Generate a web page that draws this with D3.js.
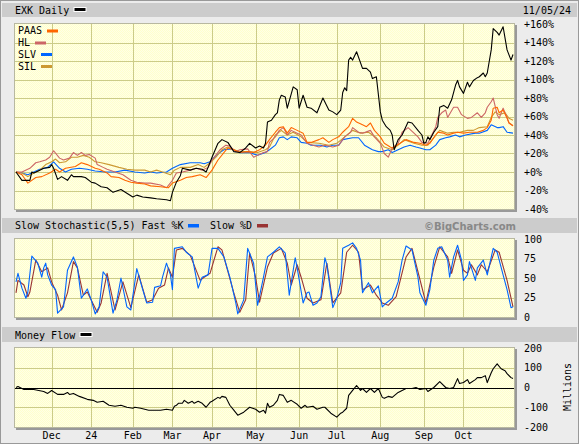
<!DOCTYPE html>
<html><head><meta charset="utf-8">
<script src="https://cdn.jsdelivr.net/npm/d3@7"></script>
<style>body{margin:0;background:#fff}svg{display:block}</style>
</head><body><svg id="c" width="579" height="444"></svg>
<script>
// ---- data: [trading-day index, value] ----
const monthLabels = ["Dec","24","Feb","Mar","Apr","May","Jun","Jul","Aug","Sep","Oct"];
const monthIdx    = [18,38,59,79,99,121,143,162,184,206,226];
const mainTicks = [-40,-20,0,20,40,60,80,100,120,140,160];
const stochTicks = [0,25,50,75,100];
const mfTicks = [-200,-100,0,100,200];
const lastIdx = 251;

const exk = [[0,0],[3,-9],[7,-9],[8,0],[9,-1],[12,2],[14,4],[17,5],[18,8],[19,4],[21,-8],[23,-5],[26,-9],[28,-3],[29,-5],[33,-5],[35,-6],[38,-11],[40,-12],[43,-16],[46,-17],[49,-22],[53,-19],[56,-23],[59,-27],[61,-25],[64,-27],[68,-28],[71,-29],[76,-30],[78,-31],[79,-22],[81,-11],[83,-4],[84,4],[88,2],[91,4],[94,3],[96,0],[97,5],[99,16],[102,31],[104,35],[107,32],[110,22],[113,21],[116,26],[118,31],[121,26],[123,28],[125,26],[126,31],[127,54],[129,56],[131,62],[132,64],[133,78],[134,83],[136,81],[137,69],[140,92],[142,89],[143,69],[145,83],[147,70],[149,69],[152,64],[155,80],[158,67],[160,65],[162,62],[164,67],[165,86],[166,91],[167,88],[168,121],[169,124],[170,121],[172,130],[175,112],[177,112],[179,108],[180,101],[182,103],[184,65],[185,56],[187,49],[189,45],[190,40],[191,24],[193,35],[195,40],[198,54],[200,53],[203,45],[205,40],[206,31],[207,32],[208,38],[209,35],[211,43],[213,49],[214,70],[216,72],[218,69],[220,78],[222,94],[223,99],[224,92],[226,85],[228,97],[229,92],[231,99],[233,102],[234,103],[236,107],[237,103],[238,107],[240,132],[241,155],[243,151],[244,148],[246,157],[248,132],[250,121],[251,127]];

const paas = [[0,0],[3,-3],[6,-12],[10,-6],[13,-5],[17,-1],[20,3],[22,0],[25,4],[30,6],[33,10],[36,8],[40,4],[42,3],[46,-1],[48,-5],[52,-6],[55,-9],[58,-11],[61,-12],[65,-13],[68,-15],[73,-16],[77,-17],[79,-12],[83,-9],[86,-6],[89,-5],[93,-3],[96,-6],[99,2],[102,13],[105,21],[107,26],[110,24],[113,21],[117,22],[120,21],[123,24],[126,29],[128,35],[131,43],[133,48],[135,49],[137,42],[139,48],[142,45],[145,42],[147,32],[149,32],[153,35],[155,37],[158,32],[160,35],[163,38],[165,43],[168,49],[170,58],[172,54],[175,51],[177,49],[179,53],[181,45],[184,38],[186,31],[189,27],[190,26],[194,31],[197,35],[201,32],[204,31],[207,29],[209,31],[211,37],[213,43],[216,42],[218,40],[221,42],[223,43],[226,42],[229,43],[233,43],[236,45],[238,48],[240,56],[241,69],[243,70],[244,64],[246,67],[248,58],[249,53],[251,50]];

const hl = [[0,0],[3,0],[7,4],[10,10],[12,11],[15,13],[17,16],[19,23],[22,15],[24,13],[27,15],[29,21],[31,18],[33,21],[35,18],[37,19],[40,15],[41,8],[44,5],[46,3],[50,0],[54,-3],[58,-9],[61,-11],[65,-12],[68,-12],[73,-14],[76,-17],[79,-9],[81,-1],[84,0],[88,2],[91,4],[94,2],[97,5],[99,13],[103,24],[106,29],[108,28],[111,22],[113,24],[117,25],[120,16],[122,18],[125,21],[127,22],[128,32],[131,38],[133,45],[135,48],[137,40],[139,45],[142,42],[144,40],[147,31],[150,29],[153,27],[156,29],[160,27],[163,29],[166,38],[169,43],[170,48],[173,43],[175,42],[179,45],[181,38],[184,31],[186,20],[188,16],[190,26],[193,31],[195,43],[198,48],[201,42],[203,38],[205,32],[208,31],[210,40],[212,49],[213,59],[215,64],[217,67],[218,59],[221,70],[223,70],[225,62],[228,58],[230,59],[233,64],[235,59],[237,64],[238,70],[240,76],[241,80],[243,62],[244,58],[246,69],[248,59],[249,53],[251,50]];

const slv = [[0,0],[3,-1],[6,-3],[9,0],[12,3],[16,5],[19,11],[22,4],[25,0],[28,3],[32,4],[36,3],[40,1],[45,0],[50,0],[55,2],[60,0],[65,-1],[68,0],[71,-1],[76,0],[79,4],[83,8],[88,10],[93,10],[95,9],[98,11],[101,18],[105,24],[109,25],[113,21],[118,21],[122,18],[126,21],[128,24],[131,29],[133,37],[135,38],[137,35],[139,38],[142,37],[144,32],[147,31],[149,29],[154,29],[157,27],[160,29],[163,29],[165,35],[170,37],[173,37],[176,29],[180,24],[183,22],[185,22],[188,24],[190,21],[193,24],[196,27],[199,29],[202,27],[204,26],[207,24],[209,24],[212,29],[214,35],[217,37],[219,38],[222,40],[224,38],[227,40],[232,42],[234,42],[238,45],[240,51],[243,48],[244,48],[246,49],[248,43],[251,42]];

const sil = [[0,0],[3,-1],[6,-5],[9,-1],[12,2],[15,8],[18,11],[20,14],[22,10],[25,11],[28,16],[31,16],[34,18],[37,16],[40,11],[43,10],[47,8],[52,5],[56,3],[60,2],[65,2],[68,0],[71,2],[74,0],[78,-3],[80,2],[83,5],[88,5],[92,8],[95,5],[98,10],[101,16],[104,24],[107,27],[110,24],[113,22],[118,22],[122,21],[126,24],[128,27],[131,40],[134,45],[137,40],[140,43],[144,38],[147,32],[153,31],[158,29],[162,31],[166,38],[170,45],[174,42],[178,43],[182,37],[186,27],[190,24],[193,29],[196,35],[201,31],[205,29],[208,29],[212,40],[214,45],[218,42],[221,43],[224,43],[228,45],[231,45],[234,48],[238,49],[240,59],[242,65],[244,62],[247,64],[249,58],[251,56]];

const fastK = [[0,45],[1,56],[3,37],[5,24],[6,32],[8,78],[11,69],[13,51],[14,63],[15,69],[16,54],[18,41],[20,35],[21,5],[24,13],[26,60],[29,77],[31,64],[33,24],[36,36],[38,22],[40,4],[42,13],[44,58],[46,51],[49,5],[51,22],[53,50],[56,13],[58,9],[61,62],[64,35],[66,18],[69,19],[70,38],[73,40],[74,51],[76,69],[78,54],[79,35],[80,88],[84,90],[86,83],[89,77],[92,37],[94,51],[97,54],[99,88],[102,88],[105,77],[108,51],[111,18],[112,4],[115,22],[117,88],[120,69],[122,15],[125,51],[127,77],[130,83],[133,90],[136,82],[138,28],[141,76],[142,63],[145,18],[147,31],[148,32],[150,15],[152,18],[154,26],[156,76],[157,67],[160,12],[162,24],[164,44],[165,88],[168,92],[170,95],[172,88],[174,73],[175,31],[178,44],[180,31],[183,40],[185,13],[187,18],[190,24],[193,45],[195,73],[197,91],[200,86],[203,51],[204,31],[207,15],[209,35],[211,73],[213,88],[215,90],[218,73],[219,51],[221,77],[223,92],[225,73],[226,47],[228,54],[229,71],[232,47],[233,63],[236,73],[238,54],[241,88],[243,83],[246,54],[248,35],[250,12],[251,13]];

const slowD = [[0,31],[1,47],[4,41],[6,26],[7,32],[10,73],[13,58],[16,63],[18,45],[21,28],[23,9],[26,31],[29,71],[31,63],[34,28],[36,32],[41,6],[43,18],[46,56],[50,9],[54,45],[58,12],[62,54],[66,19],[69,22],[72,37],[75,41],[77,63],[79,51],[81,86],[84,88],[88,79],[93,47],[95,51],[98,56],[102,90],[104,86],[110,31],[113,6],[116,22],[118,82],[121,51],[123,19],[127,64],[130,82],[134,88],[137,69],[139,41],[142,67],[144,51],[147,24],[150,18],[154,22],[157,69],[160,18],[164,31],[167,83],[170,92],[173,83],[175,35],[179,41],[182,28],[185,18],[188,15],[192,26],[197,77],[200,88],[203,58],[207,18],[211,64],[214,90],[218,77],[220,56],[223,86],[226,60],[228,56],[230,67],[233,54],[235,67],[238,58],[242,86],[244,83],[248,47],[251,13]];

const moneyFlow = [[0,0],[1,5],[4,-10],[9,-10],[14,-20],[16,-30],[18,-15],[21,-35],[24,-35],[26,-25],[27,-35],[29,-30],[32,-45],[36,-60],[39,-65],[41,-75],[44,-70],[47,-90],[50,-95],[53,-90],[56,-100],[59,-105],[60,-100],[63,-105],[67,-115],[73,-115],[76,-110],[79,-115],[80,-95],[81,-90],[82,-80],[84,-80],[85,-65],[87,-80],[89,-70],[90,-80],[92,-70],[94,-80],[96,-100],[98,-75],[99,-70],[102,-50],[103,-55],[104,-45],[106,-50],[108,-90],[110,-115],[112,-140],[115,-125],[118,-100],[121,-110],[123,-125],[125,-115],[126,-130],[127,-80],[128,-100],[130,-90],[132,-65],[133,-35],[135,-40],[137,-75],[139,-65],[142,-85],[144,-105],[146,-90],[147,-100],[150,-95],[152,-110],[155,-100],[156,-100],[159,-130],[162,-150],[164,-130],[165,-125],[167,-105],[168,-40],[170,-15],[172,10],[174,-15],[175,-5],[177,-25],[179,-5],[181,-25],[183,-5],[185,-50],[186,-55],[188,-45],[190,-50],[193,-25],[195,-15],[197,-5],[200,-5],[202,0],[204,-10],[207,-5],[208,-20],[211,0],[214,30],[217,0],[219,-5],[221,0],[223,45],[224,20],[226,25],[228,40],[229,20],[232,40],[233,50],[235,50],[237,60],[238,25],[240,75],[241,95],[243,120],[245,95],[247,85],[248,70],[250,50],[251,45]];

// ---- drawing ----
const svg = d3.select("#c");
const FONT = "'DejaVu Sans Mono', monospace";
const W = 579, H = 444;
const PL = 14, PR = 515;

const defs = svg.append("defs");
const pat = defs.append("pattern").attr("id","dith").attr("width",2).attr("height",2).attr("patternUnits","userSpaceOnUse");
pat.append("rect").attr("width",2).attr("height",2).attr("fill","#ffffcc");
pat.append("rect").attr("x",1).attr("y",0).attr("width",1).attr("height",1).attr("fill","#ffffe6");
pat.append("rect").attr("x",0).attr("y",1).attr("width",1).attr("height",1).attr("fill","#ffffe6");

svg.append("rect").attr("x",0).attr("y",0).attr("width",W).attr("height",H).attr("fill","#ececec");
svg.append("rect").attr("x",0.5).attr("y",0.5).attr("width",W-1).attr("height",H-1).attr("fill","none").attr("stroke","#999");

const x = d3.scaleLinear().domain([0,lastIdx]).range([16,513]);

function band(y0, y1) {
  svg.append("rect").attr("x",2).attr("y",y0).attr("width",W-4).attr("height",y1-y0).attr("fill","#cccccc");
}
function panel(top, bottom, yScale, ticks, fmt, zeroLine) {
  svg.append("rect").attr("x",PL+2).attr("y",top+2).attr("width",PR-PL).attr("height",bottom-top).attr("fill","#999");
  svg.append("rect").attr("x",PL).attr("y",top).attr("width",PR-PL).attr("height",bottom-top).attr("fill","url(#dith)");
  const g = svg.append("g");
  ticks.slice(1,-1).forEach(t => {
    if (zeroLine && t===0) return;
    g.append("line").attr("x1",PL).attr("x2",PR).attr("y1",Math.round(yScale(t))+0.5).attr("y2",Math.round(yScale(t))+0.5)
      .attr("stroke","#cccc88").attr("stroke-width",1);
  });
  monthIdx.forEach(m => {
    g.append("line").attr("x1",Math.round(x(m))+0.5).attr("x2",Math.round(x(m))+0.5).attr("y1",top).attr("y2",bottom)
      .attr("stroke","#cccc88").attr("stroke-width",1);
  });
  if (zeroLine) g.append("line").attr("x1",PL).attr("x2",PR).attr("y1",Math.round(yScale(0))+0.5).attr("y2",Math.round(yScale(0))+0.5).attr("stroke","#000").attr("stroke-width",1);
  svg.append("rect").attr("x",PL+0.5).attr("y",top+0.5).attr("width",PR-PL-1).attr("height",bottom-top-1).attr("fill","none").attr("stroke","#b8b8a0");
  const ax = svg.append("g").attr("font-family",FONT).attr("font-size",10).attr("fill","#000");
  ticks.forEach(t => {
    ax.append("text").attr("x",524).attr("y",yScale(t)+3.6).text(fmt(t));
  });
}
function drawLine(data, yScale, color, w) {
  const line = d3.line().x(d=>x(d[0])).y(d=>yScale(d[1]));
  svg.append("path").datum(data).attr("d",line).attr("fill","none").attr("stroke",color)
    .attr("stroke-width",w||1.1).attr("stroke-linejoin","round");
}
function txt(xp, yp, s, opts) {
  const t = svg.append("text").attr("x",xp).attr("y",yp).attr("font-family",FONT).attr("font-size",10).attr("fill","#000").text(s);
  if (opts) Object.keys(opts).forEach(k=>t.attr(k,opts[k]));
  return t;
}
function swatch(xp, yp, color, w, h) {
  svg.append("rect").attr("x",xp).attr("y",yp).attr("width",w||11).attr("height",h||3).attr("fill",color);
}

// main panel
band(3,17);
txt(15,13.6,"EXK Daily");
svg.append("rect").attr("x",74).attr("y",7.5).attr("width",12).attr("height",4).attr("fill","#000").attr("stroke","#fff").attr("stroke-width",1);
txt(571,13.6,"11/05/24",{"text-anchor":"end"});
const yMain = d3.scaleLinear().domain([-40,160]).range([209,24]);
panel(23,210,yMain,mainTicks,t => t===0 ? "+0%" : (t>0?"+":"")+t+"%", false);
drawLine(slv, yMain, "#0066ff");
drawLine(sil, yMain, "#cc9933");
drawLine(hl, yMain, "#cc6666");
drawLine(paas, yMain, "#ff6600");
drawLine(exk, yMain, "#000000");
txt(18,34.3,"PAAS"); swatch(47,29.5,"#ff6600");
txt(18,46.3,"HL");   swatch(35,41.5,"#cc6666");
txt(18,58,"SLV");    swatch(41,53,"#0066ff");
txt(18,70,"SIL");    swatch(41,65,"#cc9933");

// stochastic panel
band(218,233);
txt(15,229.3,"Slow Stochastic(5,5) Fast %K");
swatch(188,224,"#0066ff",11,3.5);
txt(210,229.3,"Slow %D");
swatch(257,224,"#993333",11,3.5);
txt(516,229.5,"\u00a9BigCharts.com",{"text-anchor":"end","font-family":"'DejaVu Sans', sans-serif","font-weight":"bold","fill":"#888","font-size":10});
const yStoch = d3.scaleLinear().domain([0,100]).range([317,239]);
panel(238,318,yStoch,stochTicks,t=>String(t),false);
drawLine(slowD, yStoch, "#993333");
drawLine(fastK, yStoch, "#0066ff");

// money flow panel
band(327,342);
txt(15,338.6,"Money Flow");
svg.append("rect").attr("x",80).attr("y",332.5).attr("width",12).attr("height",4).attr("fill","#000").attr("stroke","#fff").attr("stroke-width",1);
const yMF = d3.scaleLinear().domain([-200,200]).range([427,348]);
panel(347,428,yMF,mfTicks,t=>String(t),true);
drawLine(moneyFlow, yMF, "#000", 1.1);
txt(567,387,"Millions",{"text-anchor":"middle","transform":"rotate(-90,567,387)","dy":"3.5"});

// month axis
monthLabels.forEach((m,i) => {
  txt(x(monthIdx[i]), 438.6, m, {"text-anchor":"middle"});
});
</script>
</body></html>
